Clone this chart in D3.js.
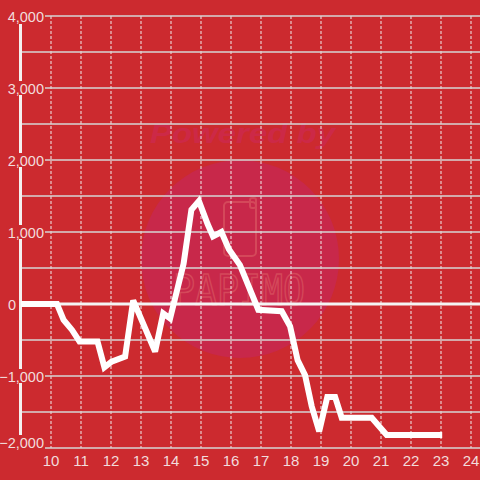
<!DOCTYPE html>
<html>
<head>
<meta charset="utf-8">
<script src="https://cdn.jsdelivr.net/npm/d3@7/dist/d3.min.js"></script>
<style>
html,body{margin:0;padding:0;background:#cc2a2f;}
svg{display:block;}
</style>
</head>
<body>
<svg id="chart" width="480" height="480"></svg>
<script>
// Data (hour of day, cumulative value)
const times  = [9, 10.2, 10.42, 10.7, 10.95, 11.55, 11.78, 12.02, 12.47, 12.74, 13.47, 13.74, 13.97, 14.42, 14.68, 14.93, 15.22, 15.4, 15.68, 15.93, 16.3, 16.91, 17.69, 17.97, 18.22, 18.47, 18.69, 18.94, 19.21, 19.47, 19.69, 20.69, 21.19, 23.04];
const values = [0, 0, -220, -360, -520, -520, -880, -800, -730, 50, -660, -130, -200, 560, 1310, 1430, 1110, 940, 1000, 760, 540, -80, -100, -310, -780, -990, -1420, -1770, -1290, -1290, -1580, -1580, -1820, -1820];
const xTicks = [10, 11, 12, 13, 14, 15, 16, 17, 18, 19, 20, 21, 22, 23, 24];
const yTicks = [4000, 3000, 2000, 1000, 0, -1000, -2000];
const yMinorTicks = [3500, 2500, 1500, 500, -500, -1500];

const BG = "#cc2a2f";
const svg = d3.select("#chart");
const x = d3.scaleLinear().domain([9, 24.3]).range([21, 480]);
const y = d3.scaleLinear().domain([-2000, 4000]).range([448, 16]);

svg.append("rect").attr("width", 480).attr("height", 480).attr("fill", BG);

// Watermark
const wm = svg.append("g");
wm.append("circle").attr("cx", 240).attr("cy", 259).attr("r", 99).attr("fill", "#c8284a");
wm.append("text").attr("x", 150).attr("y", 143)
  .attr("font-family", "Liberation Sans, Arial, sans-serif").attr("font-weight", "bold").attr("font-style", "italic")
  .attr("font-size", 27).attr("textLength", 185).attr("lengthAdjust", "spacingAndGlyphs")
  .attr("fill", "#cc2947").text("Powered by");
wm.append("rect").attr("x", 224).attr("y", 202).attr("width", 32).attr("height", 54).attr("rx", 4)
  .attr("fill", "none").attr("stroke", "#d4485a").attr("stroke-width", 2);
wm.append("rect").attr("x", 250).attr("y", 198).attr("width", 6).attr("height", 10).attr("rx", 2)
  .attr("fill", "none").attr("stroke", "#d4485a").attr("stroke-width", 2);
wm.append("text").attr("x", 173).attr("y", 305)
  .attr("font-family", "DejaVu Sans Mono, monospace").attr("font-size", 42)
  .attr("textLength", 132).attr("lengthAdjust", "spacingAndGlyphs")
  .attr("fill", "none").attr("stroke", "#d4485a").attr("stroke-width", 1.5).text("PAPIMO");

// Vertical dotted grid lines
svg.append("g").selectAll("line").data(xTicks).join("line")
  .attr("x1", d => x(d)).attr("x2", d => x(d))
  .attr("y1", y(4000)).attr("y2", y(-2000))
  .attr("stroke", "#f0f0f0").attr("stroke-width", 1).attr("stroke-dasharray", "3,2");

// Horizontal grid lines
svg.append("g").selectAll("line").data(yTicks.concat(yMinorTicks)).join("line")
  .attr("x1", 21).attr("x2", 480)
  .attr("y1", d => y(d)).attr("y2", d => y(d))
  .attr("stroke", d => d === 0 ? "#f4f4f4" : "#d6d6d6")
  .attr("stroke-width", d => d === 0 ? 3 : 1.5);

// Left axis line
svg.append("line").attr("x1", 20.5).attr("x2", 20.5).attr("y1", 24).attr("y2", 437)
  .attr("stroke", "#f4f0f0").attr("stroke-width", 3);

// Y labels with background
const yl = svg.append("g").selectAll("g").data(yTicks).join("g");
yl.each(function(d) {
  const g = d3.select(this);
  const cy = d === -2000 ? y(d) - 6 : y(d);
  const ax = d === 0 ? 16 : 44;
  const t = g.append("text").attr("x", ax).attr("y", cy + 5.5).attr("text-anchor", "end")
    .attr("font-family", "Liberation Sans, Arial, sans-serif").attr("font-size", 14.5)
    .attr("fill", "#f2dcdc").text(d3.format(",")(d));
  if (d !== 0) {
    const bb = t.node().getBBox();
    g.insert("rect", "text").attr("x", bb.x - 1).attr("y", cy - 7).attr("width", Math.max(0, 45 - bb.x + 1))
      .attr("height", 14).attr("fill", BG);
  }
});

// X labels
svg.append("g").selectAll("text").data(xTicks).join("text")
  .attr("x", d => x(d)).attr("y", 466).attr("text-anchor", "middle")
  .attr("font-family", "Liberation Sans, Arial, sans-serif").attr("font-size", 15)
  .attr("fill", "#f2dcdc").text(d => d);

// Data line
const line = d3.line().x((d, i) => x(times[i])).y(d => y(d));
svg.append("path").datum(values).attr("d", line)
  .attr("fill", "none").attr("stroke", "#ffffff").attr("stroke-width", 6)
  .attr("stroke-linejoin", "miter").attr("stroke-miterlimit", 3);
</script>
</body>
</html>
